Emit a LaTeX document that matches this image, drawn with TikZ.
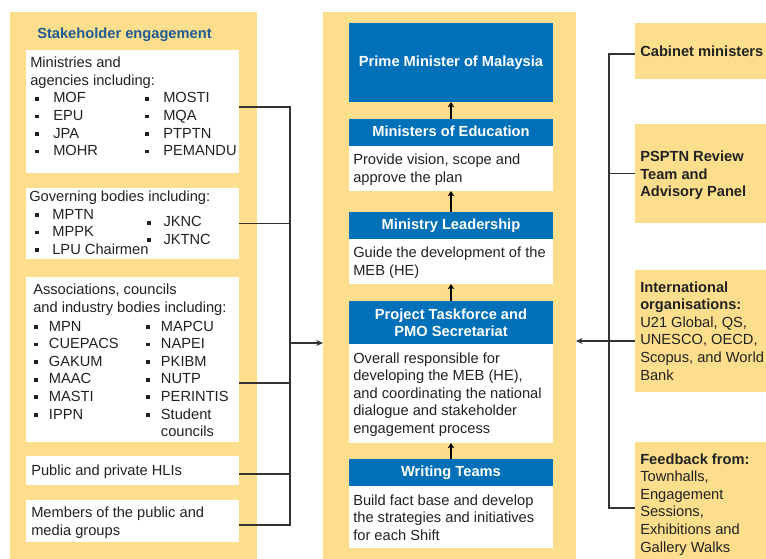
\documentclass[tikz,border=0pt]{standalone}
\usepackage{fontspec}
\setmainfont{Liberation Sans}
\usetikzlibrary{arrows.meta}
\definecolor{panel}{HTML}{FDDE8C}
\definecolor{hdrblue}{HTML}{0070B8}
\definecolor{ttlblue}{HTML}{1F5C94}
\definecolor{txt}{HTML}{222222}
\definecolor{wire}{HTML}{333333}
\newcommand{\bx}[2]{\makebox[#1][l]{\rule[1.7pt]{2.8pt}{2.8pt}}#2}
\newcommand{\boxat}[7][]{\node[#1,anchor=north west,inner sep=0,outer sep=0,minimum width={(#4-#2)*0.75pt},minimum height={(#5-#3)*0.75pt}] (#6) at (#2,#3) {#7};}
\begin{document}
\begin{tikzpicture}[x=0.75pt,y=-0.75pt,
  panelbox/.style={fill=panel,draw=none},
  whitebox/.style={fill=white,draw=none},
  hdr/.style={fill=hdrblue,text=white,font=\bfseries\fontsize{11}{13.1}\selectfont,align=center},
  body/.style={font=\fontsize{11}{13.15}\selectfont,text=txt,align=left,inner sep=0,anchor=base west},
  rbody/.style={body,font=\fontsize{11}{13.2}\selectfont},
  wire/.style={draw=wire,line width=0.9pt},
  wirearrow/.style={wire,-{Stealth[length=5pt,width=4.5pt]}},
  uparrow/.style={draw=black,line width=1.4pt,-{Stealth[length=4pt,width=5pt]}}]
\useasboundingbox (0,0) rectangle (766,559);
% ---------- left panel ----------
\boxat[panelbox]{10}{12}{257}{559}{lp}{}
\node[anchor=base west,inner sep=0,text=ttlblue,font=\bfseries\fontsize{11}{13}\selectfont] (lt) at (37,39) {Stakeholder engagement};
\boxat[whitebox]{26}{50}{239}{173}{b1}{}
\boxat[whitebox]{26}{188}{239}{259}{b2}{}
\boxat[whitebox]{26}{277}{239}{442}{b3}{}
\boxat[whitebox]{26}{456}{239}{485}{b4}{}
\boxat[whitebox]{26}{500}{239}{542}{b5}{}
% (base anchor of a multi-line node = baseline of its last line)
\node[body] (t1) at (30,85.5) {Ministries and\\agencies including:};
\node[body] (t1a) at (35,155.6) {\bx{13.5pt}{MOF}\\\bx{13.5pt}{EPU}\\\bx{13.5pt}{JPA}\\\bx{13.5pt}{MOHR}};
\node[body] (t1b) at (145,155.6) {\bx{13.5pt}{MOSTI}\\\bx{13.5pt}{MQA}\\\bx{13.5pt}{PTPTN}\\\bx{13.5pt}{PEMANDU}};
\node[body] (t2) at (29,202) {Governing bodies including:};
\node[body] (t2a) at (35,254.1) {\bx{12.8pt}{MPTN}\\\bx{12.8pt}{MPPK}\\\bx{12.8pt}{LPU Chairmen}};
\node[body] (t2b) at (147,244.5) {\bx{12.2pt}{JKNC}\\\bx{12.2pt}{JKTNC}};
\node[body] (t3) at (33,312.5) {Associations, councils\\and industry bodies including:};
\node[body,font=\fontsize{11}{13.2}\selectfont] (t3a) at (34,419) {\bx{11pt}{MPN}\\\bx{11pt}{CUEPACS}\\\bx{11pt}{GAKUM}\\\bx{11pt}{MAAC}\\\bx{11pt}{MASTI}\\\bx{11pt}{IPPN}};
\node[body,font=\fontsize{11}{13.2}\selectfont] (t3b) at (146,436.6) {\bx{11pt}{MAPCU}\\\bx{11pt}{NAPEI}\\\bx{11pt}{PKIBM}\\\bx{11pt}{NUTP}\\\bx{11pt}{PERINTIS}\\\bx{11pt}{Student}\\\hspace*{11pt}councils};
\node[body] (t4) at (31,475) {Public and private HLIs};
\node[body] (t5) at (31,535.5) {Members of the public and\\media groups};
% left connectors
\coordinate (busL) at (290,0);
\coordinate (c1) at (239,107);
\coordinate (c3) at (239,383);
\coordinate (c4) at (239,474);
\coordinate (c5) at (239,525);
\coordinate (jl) at (290,343);
\draw[wire] (c1) -- (c1 -| busL) -- (c5 -| busL) -- (c5);
\draw[wire] (b2.east) -- (b2.east -| busL);
\draw[wire] (c3) -- (c3 -| busL);
\draw[wire] (c4) -- (c4 -| busL);
% ---------- middle panel ----------
\boxat[panelbox]{323}{12}{576}{559}{mp}{}
\boxat[hdr]{349}{23}{553}{102}{pm}{Prime Minister of Malaysia}
\boxat[hdr,text height=7.8pt,text depth=2.3pt]{349}{119}{553}{146}{me}{Ministers of Education}
\boxat[whitebox]{349}{146}{553}{191}{meb}{}
\boxat[hdr,text height=7.8pt,text depth=2.3pt]{349}{212}{553}{239}{ml}{Ministry Leadership}
\boxat[whitebox]{349}{239}{553}{284}{mlb}{}
\boxat[hdr]{349}{301}{553}{344}{pt}{Project Taskforce and\\PMO Secretariat}
\boxat[whitebox]{349}{344}{553}{443}{ptb}{}
\boxat[hdr,text height=7.8pt,text depth=2.3pt]{349}{459}{553}{486}{wt}{Writing Teams}
\boxat[whitebox]{349}{486}{553}{548}{wtb}{}
\node[body] (tme) at (353,182.5) {Provide vision, scope and\\approve the plan};
\node[body] (tml) at (353,275.5) {Guide the development of the\\MEB (HE)};
\node[body,font=\fontsize{11}{13.2}\selectfont] (tpt) at (353,433.4) {Overall responsible for\\developing the MEB (HE),\\and coordinating the national\\dialogue and stakeholder\\engagement process};
\node[body,font=\fontsize{11}{13.2}\selectfont] (twt) at (353,540.2) {Build fact base and develop\\the strategies and initiatives\\for each Shift};
\draw[uparrow] (me.north) -- (pm.south);
\draw[uparrow] (ml.north) -- (meb.south);
\draw[uparrow] (pt.north) -- (mlb.south);
\draw[uparrow] (wt.north) -- (ptb.south);
\draw[wirearrow] (jl) -- (jl -| mp.west);
% ---------- right side ----------
\boxat[panelbox]{635}{23}{766}{79}{cab}{}
\boxat[panelbox]{635}{124}{766}{223}{rev}{}
\boxat[panelbox]{635}{270}{766}{392}{intl}{}
\boxat[panelbox]{635}{442}{766}{559}{fb}{}
\node[body,font=\bfseries\fontsize{11}{13}\selectfont] (tcab) at (640,57) {Cabinet ministers};
\node[body,font=\bfseries\fontsize{11}{13.05}\selectfont] (trev) at (640,196.8) {PSPTN Review\\Team and\\Advisory Panel};
\node[rbody] (tintl) at (640,380) {\textbf{International}\\\textbf{organisations:}\\U21 Global, QS,\\UNESCO, OECD,\\Scopus, and World\\Bank};
\node[rbody] (tfb) at (640,552) {\textbf{Feedback from:}\\Townhalls,\\Engagement\\Sessions,\\Exhibitions and\\Gallery Walks};
\coordinate (busR) at (609,0);
\coordinate (r1) at (635,54);
\coordinate (r3) at (635,341);
\coordinate (r4) at (635,508);
\draw[wire] (r1) -- (r1 -| busR) -- (r4 -| busR) -- (r4);
\draw[wire] (rev.west) -- (rev.west -| busR);
\draw[wirearrow] (r3) -- (r3 -| mp.east);
\end{tikzpicture}
\end{document}
